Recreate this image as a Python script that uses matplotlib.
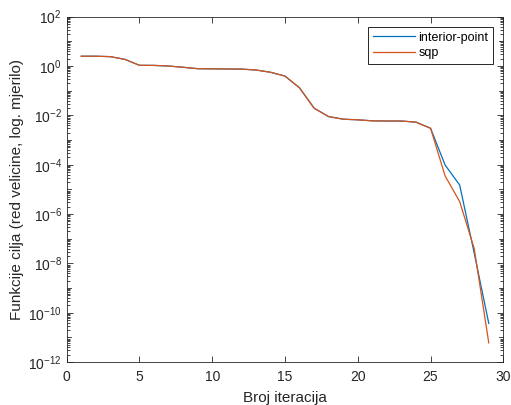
import numpy as np
import matplotlib
matplotlib.use("Agg")
import matplotlib.pyplot as plt
from matplotlib.ticker import FixedLocator, NullFormatter

plt.rcParams["font.family"] = ["Liberation Sans", "DejaVu Sans"]

# ============================================
# DATA
# ============================================

iterations = list(range(1, 30))

interior_point = [2.5, 2.5, 2.4, 1.86, 1.07, 1.06, 1.0, 0.89, 0.78, 0.77,
                  0.76, 0.75, 0.69, 0.56, 0.39, 0.13, 0.0195, 0.0089, 0.0070, 0.0066,
                  0.0060, 0.0059, 0.0059, 0.0053, 0.0030, 9.7e-5, 1.5e-5, 2.6e-8, 3.7e-11]
sqp = [2.5, 2.5, 2.4, 1.86, 1.07, 1.06, 1.0, 0.89, 0.78, 0.77,
       0.76, 0.75, 0.69, 0.56, 0.39, 0.13, 0.0195, 0.0089, 0.0070, 0.0066,
       0.0060, 0.0059, 0.0059, 0.0053, 0.0030, 3.5e-5, 3.2e-6, 4e-8, 6e-12]

# ============================================
# PLOT
# ============================================

fig = plt.figure(figsize=(5.11, 4.05), dpi=100)
ax = fig.add_axes([0.1305, 0.106, 0.8545, 0.8528])

ax.plot(iterations, interior_point, color="#0072BD", linewidth=0.9, label="interior-point")
ax.plot(iterations, sqp, color="#D95319", linewidth=0.9, label="sqp")

ax.set_yscale("log")
ax.set_xlim(0, 30)
ax.set_ylim(1e-12, 1e2)

ax.set_xticks(np.arange(0, 31, 5))
ax.set_yticks([10.0 ** e for e in range(-12, 3, 2)])
ax.yaxis.set_minor_locator(FixedLocator(
    [m * 10.0 ** e for e in range(-12, 2) for m in range(2, 10)]
))
ax.yaxis.set_minor_formatter(NullFormatter())

ax.tick_params(direction="in", which="both", top=True, right=True,
               labelsize=10, colors="#262626", length=4, width=0.6)
ax.tick_params(which="minor", length=2)
ax.tick_params(axis="x", pad=6)
ax.tick_params(axis="y", pad=3.5)

for side in ax.spines.values():
    side.set_color("#262626")
    side.set_linewidth(0.6)

# odd decades get a full length tick but no label
for e in range(-11, 2, 2):
    for xp in (0, 1):
        ax.plot([xp, xp + (0.009 if xp == 0 else -0.009)], [10.0 ** e, 10.0 ** e],
                transform=ax.get_yaxis_transform(), color="#262626",
                linewidth=0.6, clip_on=False)

ax.set_xlabel("Broj iteracija", fontsize=11, color="#262626", labelpad=5)
ax.set_ylabel("Funkcije cilja (red velicine, log. mjerilo)", fontsize=11,
              color="#262626", labelpad=3)

leg = ax.legend(loc="upper right", fontsize=9, fancybox=False, edgecolor="#262626",
                framealpha=1, borderaxespad=0.8, handlelength=3.3, handletextpad=0.3,
                labelspacing=0.3, borderpad=0.4)
leg.get_frame().set_linewidth(0.7)

fig.savefig("out.png", dpi=100)
